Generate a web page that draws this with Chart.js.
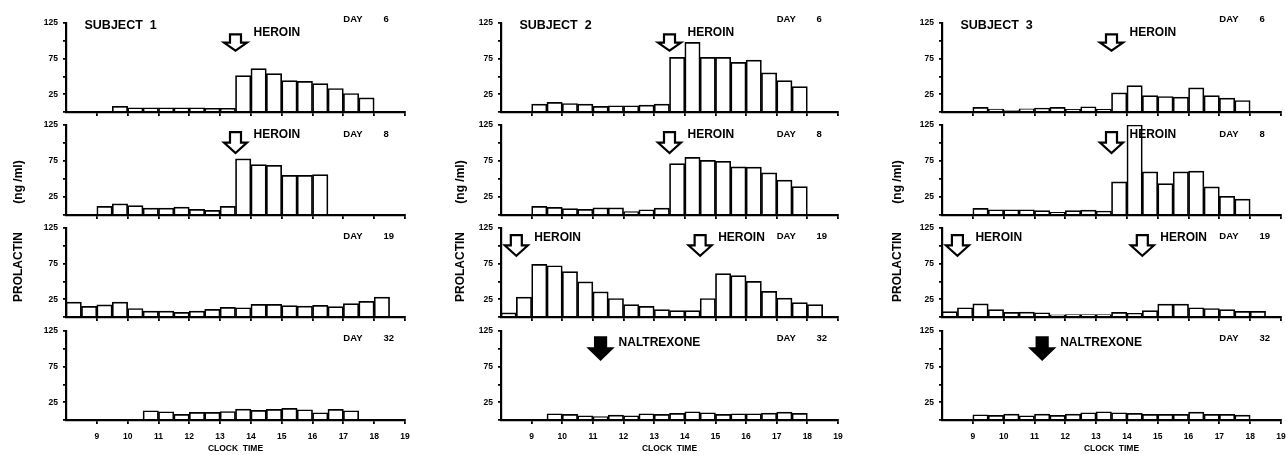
<!DOCTYPE html>
<html>
<head>
<meta charset="utf-8">
<script src="https://cdn.jsdelivr.net/npm/chart.js@4.4.1/dist/chart.umd.min.js"></script>
<style>
  html, body { margin: 0; padding: 0; background: #fff; }
  #page { position: relative; width: 1286px; height: 455px; overflow: hidden; }
  .panel { position: absolute; }
</style>
</head>
<body>
<div id="page"></div>
<script>
/* DATA */

// start of each half-hour sample, 8:00 .. 18:30
const slotStarts = [8, 8.5, 9, 9.5, 10, 10.5, 11, 11.5, 12, 12.5, 13, 13.5, 14, 14.5, 15, 15.5, 16, 16.5, 17, 17.5, 18, 18.5];
const hourTicks = [9, 10, 11, 12, 13, 14, 15, 16, 17, 18, 19];
const yTicks = [0, 25, 50, 75, 100, 125];
const yTickLabels = [25, 75, 125];
const subjects = ["SUBJECT  1", "SUBJECT  2", "SUBJECT  3"];
const days = ["6", "8", "19", "32"];

// prolactin (ng/ml) per half-hour slot, null = no sample
const s1Day6 = [null, null, null, 8, 6, 6, 6, 6, 6, 5, 5, 51, 61, 54, 44, 43, 40, 33, 26, 20, null, null];
const s1Day8 = [null, null, 12, 15.6, 13, 9.6, 9.6, 11, 7.8, 6.4, 12, 78, 70, 69, 55, 55, 56, null, null, null, null, null];
const s1Day19 = [21, 15, 17, 21, 12, 8.4, 8.4, 6.5, 8.4, 10.7, 13.5, 13, 17.7, 17.7, 16, 15.4, 16.3, 14.5, 18.7, 22, 28, null];
const s1Day32 = [null, null, null, null, null, 13, 11.6, 7.9, 10.7, 10.7, 12, 15.3, 13.5, 14.9, 16.3, 14.4, 10.2, 14.9, 13, null, null, null];

const s2Day6 = [null, null, 11, 13.5, 12, 11, 8, 8.8, 8.8, 9.8, 11, 76.7, 97.7, 76.7, 76.7, 69.8, 73, 55, 44, 35.8, null, null];
const s2Day8 = [null, null, 12, 10.5, 9, 7.8, 10, 10, 4.6, 7.3, 9.6, 71.4, 80, 76, 74.6, 66.8, 66.4, 58.6, 48.5, 39.4, null, null];
const s2Day19 = [5.7, 28, 74, 72, 63.7, 49.5, 35.4, 26, 17.5, 15, 10.4, 9, 9, 26, 61, 58, 50, 36, 26.4, 20.3, 17.5, null];
const s2Day32 = [null, null, null, 8.8, 7.9, 6, 4.7, 7, 6, 8.8, 7.9, 9.3, 11.6, 10.2, 7.9, 8.8, 8.8, 9.8, 11.2, 9.3, null, null];

const s3Day6 = [null, null, 6.5, 4.2, 2, 4.6, 5.6, 6.5, 3.7, 7.4, 3.7, 27, 37, 23, 21.8, 20.8, 34, 23, 19.4, 16.2, null, null];
const s3Day8 = [null, null, 9.2, 7.3, 7.3, 7.3, 6, 3.7, 6, 6.9, 5.5, 45.9, 125, 60, 43.6, 60, 61, 39, 26, 22, null, null];
const s3Day19 = [7.5, 13, 18.5, 10.5, 6.5, 7, 6, 3, 3.3, 3.3, 3.3, 6.5, 5.2, 9, 18, 18, 13, 12, 10.5, 8, 8, null];
const s3Day32 = [null, null, 7.4, 6.5, 8.4, 6, 8.4, 6.5, 8.4, 10.2, 11.6, 10.2, 9.3, 7.9, 7.9, 7.9, 11.2, 7.9, 7.9, 7, null, null];

// drug doses (clock time)
const heroinDay6 = [13.5];
const heroinDay8 = [13.5];
const heroinDay19 = [8.5, 14.5];
const naltrexoneDay32 = [11.25];

const panelValues = [
  [s1Day6, s1Day8, s1Day19, s1Day32],
  [s2Day6, s2Day8, s2Day19, s2Day32],
  [s3Day6, s3Day8, s3Day19, s3Day32],
];
const panelDoses = [
  [heroinDay6, heroinDay8, [], []],
  [heroinDay6, heroinDay8, heroinDay19, naltrexoneDay32],
  [heroinDay6, heroinDay8, heroinDay19, naltrexoneDay32],
];

/* LAYOUT */

const FONT = '"Liberation Sans", Arial, sans-serif';
const colLeft = [0, 430, 856];
const colAxisW = [66, 71, 86];
const colPadRight = [25, 22, 5];
const colTitleDx = [47, 40, 44];
const rowTop = [23, 125, 228, 331];
const rowBottom = [112, 215, 317, 420];
const rowArrow = [
  { from: 109, to: 86, textY: 112, dayY: 130 },
  { from: 115, to: 86, textY: 111, dayY: 112 },
  { from: 115, to: 86, textY: 111, dayY: 113 },
  { from: 116, to: 85, textY: 108, dayY: 114 },
];
const PAD_TOP = 22;

function drawArrow(ctx, cx, yTop, yTip, filled) {
  const headH = (yTip - yTop) * 0.5;
  const hw = 11.5, sw = 5.5;
  ctx.beginPath();
  ctx.moveTo(cx - sw, yTop);
  ctx.lineTo(cx + sw, yTop);
  ctx.lineTo(cx + sw, yTip - headH);
  ctx.lineTo(cx + hw, yTip - headH);
  ctx.lineTo(cx, yTip);
  ctx.lineTo(cx - hw, yTip - headH);
  ctx.lineTo(cx - sw, yTip - headH);
  ctx.closePath();
  ctx.fillStyle = filled ? "#000" : "#fff";
  ctx.fill();
  ctx.lineWidth = 2.2;
  ctx.strokeStyle = "#000";
  ctx.stroke();
}

const panelText = {
  id: "panelText",
  afterDatasetsDraw(chart, args, opts) {
    const { ctx, chartArea } = chart;
    const x = chart.scales.x, y = chart.scales.y;
    ctx.save();
    ctx.fillStyle = "#000";
    ctx.textBaseline = "middle";
    ctx.textAlign = "left";

    if (opts.subject) {
      ctx.font = `bold 12.5px ${FONT}`;
      ctx.fillText(opts.subject, x.getPixelForValue(8.6), y.getPixelForValue(122));
    }

    ctx.font = `bold 9.5px ${FONT}`;
    ctx.fillText("DAY", x.getPixelForValue(17.0), y.getPixelForValue(opts.arrow.dayY));
    ctx.fillText(opts.day, x.getPixelForValue(18.3), y.getPixelForValue(opts.arrow.dayY));

    opts.doses.forEach((t) => {
      const cx = x.getPixelForValue(t);
      drawArrow(ctx, cx, y.getPixelForValue(opts.arrow.from), y.getPixelForValue(opts.arrow.to), opts.filled);
      ctx.fillStyle = "#000";
      ctx.font = `bold 12px ${FONT}`;
      ctx.fillText(opts.drug, cx + 18, y.getPixelForValue(opts.arrow.textY));
    });

    if (opts.sideTitle) {
      ctx.translate(chartArea.left - opts.titleDx, chartArea.bottom - opts.sideTitle.dy);
      ctx.rotate(-Math.PI / 2);
      ctx.textAlign = "center";
      ctx.font = `bold 12px ${FONT}`;
      ctx.fillText(opts.sideTitle.text, 0, 0);
    }
    ctx.restore();
  },
};

const page = document.getElementById("page");

function makePanel(col, row) {
  const values = panelValues[col][row];
  const isLast = row === 3;
  const xH = isLast ? 35 : 6;
  const areaH = rowBottom[row] - rowTop[row];
  const w = 430;
  const h = PAD_TOP + areaH + xH;

  const div = document.createElement("div");
  div.className = "panel";
  div.style.left = colLeft[col] + "px";
  div.style.top = rowTop[row] - PAD_TOP + "px";
  const canvas = document.createElement("canvas");
  canvas.width = w;
  canvas.height = h;
  canvas.style.width = w + "px";
  canvas.style.height = h + "px";
  div.appendChild(canvas);
  page.appendChild(div);

  const points = values
    .map((v, i) => (v == null ? null : { x: slotStarts[i] + 0.25, y: v }))
    .filter(Boolean);

  let sideTitle = null;
  if (row === 1) sideTitle = { text: "(ng /ml)", dy: 33 };
  if (row === 2) sideTitle = { text: "PROLACTIN", dy: 50 };

  new Chart(canvas, {
    type: "bar",
    data: {
      datasets: [
        {
          data: points,
          backgroundColor: "#fff",
          borderColor: "#000",
          borderWidth: 1.7,
          barPercentage: 1,
          categoryPercentage: 1,
        },
      ],
    },
    options: {
      responsive: false,
      animation: false,
      events: [],
      layout: { padding: { top: PAD_TOP, right: colPadRight[col], bottom: 0, left: 0 } },
      plugins: {
        legend: { display: false },
        tooltip: { enabled: false },
        panelText: {
          subject: row === 0 ? subjects[col] : null,
          day: days[row],
          doses: panelDoses[col][row],
          drug: row === 3 ? "NALTREXONE" : "HEROIN",
          filled: row === 3,
          arrow: rowArrow[row],
          sideTitle: sideTitle,
          titleDx: colTitleDx[col],
        },
      },
      scales: {
        x: {
          type: "linear",
          min: 8,
          max: 19,
          offset: false,
          afterBuildTicks: (s) => {
            s.ticks = hourTicks.map((v) => ({ value: v }));
          },
          ticks: {
            display: isLast,
            autoSkip: false,
            maxRotation: 0,
            color: "#000",
            padding: 8,
            font: { family: FONT, size: 8.5, weight: "bold" },
          },
          grid: { offset: false, drawOnChartArea: false, tickLength: 4, color: "#000", lineWidth: 1.8 },
          border: { color: "#000", width: 2.2 },
          title: {
            display: isLast,
            text: "CLOCK  TIME",
            color: "#000",
            padding: { top: 0, bottom: 1 },
            font: { family: FONT, size: 8.5, weight: "bold" },
          },
          afterFit: (s) => {
            s.height = xH;
            s.paddingLeft = 0;
            s.paddingRight = 0;
          },
        },
        y: {
          min: 0,
          max: 125,
          afterBuildTicks: (s) => {
            s.ticks = yTicks.map((v) => ({ value: v }));
          },
          ticks: {
            autoSkip: false,
            color: "#000",
            padding: 5,
            font: { family: FONT, size: 8.5, weight: "bold" },
            callback: (v) => (yTickLabels.includes(v) ? String(v) : ""),
          },
          grid: { drawOnChartArea: false, tickLength: 3, color: "#000", lineWidth: 1.8 },
          border: { color: "#000", width: 2.2 },
          afterFit: (s) => {
            s.width = colAxisW[col];
            s.paddingTop = 0;
            s.paddingBottom = 0;
          },
        },
      },
    },
    plugins: [panelText],
  });
}

for (let c = 0; c < 3; c++) {
  for (let r = 0; r < 4; r++) makePanel(c, r);
}
</script>
</body>
</html>
